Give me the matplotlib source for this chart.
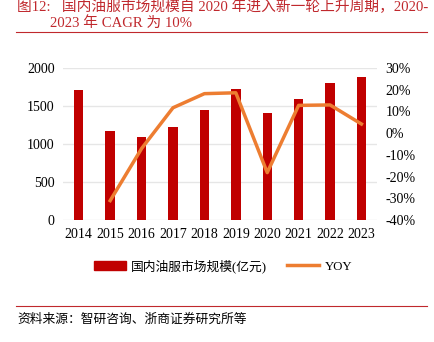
import numpy as np
import matplotlib.pyplot as plt
from matplotlib.lines import Line2D
from matplotlib.patches import Patch

years = ['2014', '2015', '2016', '2017', '2018', '2019', '2020', '2021', '2022', '2023']
market = [1710, 1175, 1092, 1220, 1443, 1720, 1404, 1592, 1799, 1878]
yoy_years = years[1:]
yoy = [-31.1, -7.1, 11.7, 18.2, 18.6, -18.2, 12.8, 13.0, 4.2]

fam = ['Liberation Serif', 'Noto Sans CJK SC']
plt.rcParams['font.family'] = fam

bar_color = '#C00000'
line_color = '#ED7D31'
title_color = '#C0282D'


def main():
    fig = plt.figure(figsize=(4.35, 3.42), dpi=100)
    ax = fig.add_axes([0.145, 0.357, 0.722, 0.444])
    x = np.arange(len(years))
    ax.bar(x, market, width=0.3, color=bar_color, zorder=3)
    ax.set_xlim(-0.5, len(years) - 0.5)
    ax.set_ylim(0, 2000)
    ax.set_yticks([0, 500, 1000, 1500, 2000])
    ax.set_xticks(x)
    ax.set_xticklabels(years)
    ax.grid(axis='y', color='#E6E6E6', linewidth=1, zorder=0)
    for s in ax.spines.values():
        s.set_visible(False)
    ax.tick_params(length=0, labelsize=10, pad=6)

    ax2 = ax.twinx()
    ax2.plot(x[1:], yoy, color=line_color, linewidth=2.5, zorder=4)
    ax2.set_ylim(-40, 30)
    ax2.set_yticks(range(-40, 31, 10))
    ax2.set_yticklabels(['{}%'.format(v) for v in range(-40, 31, 10)])
    for s in ax2.spines.values():
        s.set_visible(False)
    ax2.tick_params(length=0, labelsize=10, pad=6)

    handles = [Patch(color=bar_color), Line2D([0], [0], color=line_color, linewidth=2.5)]
    fig.legend(handles, ['国内油服市场规模(亿元)', 'YOY'], loc='center',
               bbox_to_anchor=(223 / 435, 1 - 266 / 342), ncol=2, frameon=False,
               fontsize=9.2, handlelength=2.5, columnspacing=1.6, handletextpad=0.4)

    fig.text(0.039, 1 - 7 / 342, '图12:   国内油服市场规模自 2020 年进入新一轮上升周期，2020-',
             color=title_color, fontsize=10.6, va='center', family=fam)
    fig.text(0.115, 1 - 23 / 342, '2023 年 CAGR 为 10%',
             color=title_color, fontsize=10.6, va='center', family=fam)
    fig.add_artist(Line2D([16 / 435, 427 / 435], [1 - 32 / 342] * 2, color=title_color, linewidth=0.8))
    fig.add_artist(Line2D([16 / 435, 427 / 435], [1 - 306 / 342] * 2, color=title_color, linewidth=0.8))
    fig.text(0.039, 1 - 320 / 342, '资料来源：智研咨询、浙商证券研究所等',
             fontsize=9.2, va='center', family=fam)

    fig.savefig('out.png', dpi=100)


if __name__ == '__main__':
    main()
